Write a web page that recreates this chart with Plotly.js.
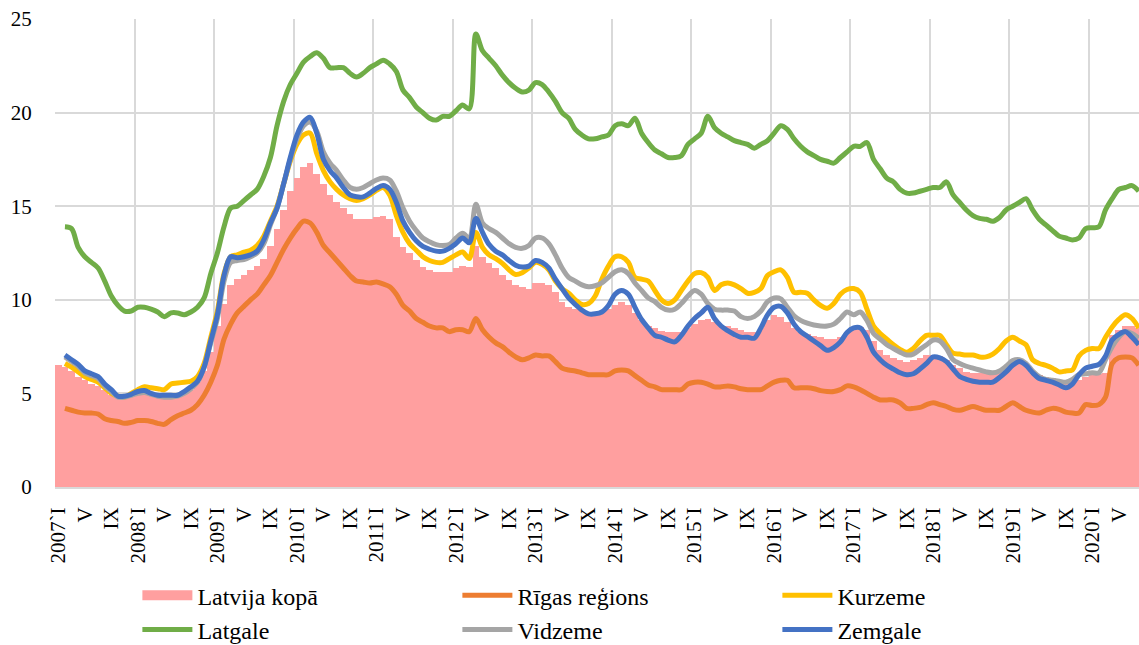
<!DOCTYPE html>
<html>
<head>
<meta charset="utf-8">
<script src="https://cdn.plot.ly/plotly-3.0.1.min.js"></script>
<style>
  html, body { margin: 0; padding: 0; background: #fff; }
  #chart { width: 1139px; height: 645px; }
  #chart svg text { font-family: "Liberation Serif", "Times New Roman", serif !important; }
</style>
</head>
<body>
<div id="chart"></div>
<script>
// Monthly data, January 2007 (index 0) to August 2020 (index 163)
const startYear = 2007;
const monthCount = 164;

const latvijaKopa = [
  6.5, 6.4, 6.2, 5.9, 5.7, 5.5, 5.4, 5.2, 4.9, 4.8, 4.8, 4.9,
  5.0, 5.0, 4.9, 4.8, 4.7, 4.8, 4.9, 5.0, 5.2, 5.6, 6.2, 7.2,
  8.6, 9.8, 10.8, 11.1, 11.3, 11.6, 11.8, 12.2, 12.9, 13.8, 14.8, 15.8,
  16.5, 17.1, 17.3, 16.7, 16.2, 15.6, 15.2, 14.9, 14.6, 14.3, 14.3, 14.3,
  14.4, 14.5, 14.3, 13.35, 12.8, 12.5, 12.1, 11.75, 11.6, 11.5, 11.5, 11.5,
  11.7, 11.8, 11.75, 12.9, 12.3, 11.95, 11.7, 11.3, 11.05, 10.8, 10.7, 10.6,
  10.9, 10.9, 10.8, 10.4, 9.9, 9.6, 9.5, 9.45, 9.35, 9.3, 9.4, 9.5,
  9.7, 9.9, 9.7, 9.3, 8.9, 8.6, 8.5, 8.35, 8.3, 8.3, 8.3, 8.5,
  8.7, 8.9, 9.0, 8.8, 8.65, 8.6, 8.5, 8.4, 8.3, 8.3, 8.5, 8.9,
  9.2, 9.1, 8.8, 8.5, 8.3, 8.15, 8.05, 8.0, 7.9, 7.9, 8.0, 8.3,
  8.5, 8.55, 8.4, 7.8, 7.3, 7.05, 6.9, 6.8, 6.7, 6.8, 6.9, 7.05,
  7.05, 7.0, 6.8, 6.5, 6.35, 6.15, 6.1, 6.1, 6.1, 6.1, 6.15, 6.4,
  6.6, 6.6, 6.5, 6.1, 6.0, 5.9, 5.8, 5.7, 5.6, 5.55, 5.7, 5.9,
  6.0, 6.05, 6.1, 8.1, 8.4, 8.6, 8.6, 8.5
];

const rigasRegions = [
  null, 4.2, 4.1, 4.0, 3.95, 3.95, 3.9, 3.65, 3.55, 3.5, 3.4, 3.45,
  3.55, 3.55, 3.5, 3.4, 3.35, 3.6, 3.8, 3.95, 4.1, 4.4, 4.9, 5.6,
  6.5, 7.9, 8.7, 9.3, 9.65, 10.0, 10.3, 10.8, 11.3, 12.0, 12.7, 13.3,
  13.8, 14.2, 14.1, 13.6, 12.9, 12.5, 12.1, 11.7, 11.3, 11.0, 10.95, 10.9,
  10.95, 10.85, 10.7, 10.3, 9.7, 9.4, 9.0, 8.8, 8.6, 8.5, 8.5, 8.3,
  8.4, 8.4, 8.3, 9.0, 8.4, 8.0, 7.7, 7.5, 7.2, 6.95, 6.8, 6.9,
  7.05, 7.0, 7.0, 6.7, 6.35, 6.25, 6.2, 6.1, 6.0, 6.0, 6.0, 6.0,
  6.2, 6.25, 6.2, 5.95, 5.7, 5.45, 5.35, 5.2, 5.2, 5.2, 5.2, 5.5,
  5.6, 5.6, 5.5, 5.35, 5.35, 5.4, 5.35, 5.25, 5.2, 5.2, 5.2, 5.4,
  5.6, 5.7, 5.7, 5.3, 5.3, 5.3, 5.25, 5.15, 5.1, 5.1, 5.2, 5.4,
  5.35, 5.2, 5.0, 4.8, 4.65, 4.65, 4.65, 4.5, 4.2, 4.2, 4.25, 4.4,
  4.5, 4.4, 4.3, 4.15, 4.1, 4.2, 4.3, 4.2, 4.1, 4.1, 4.1, 4.3,
  4.5, 4.3, 4.1, 4.0, 3.95, 4.1, 4.2, 4.15, 4.0, 3.95, 3.95, 4.4,
  4.35, 4.4, 4.8, 6.6, 6.9, 6.95, 6.9, 6.5
];

const kurzeme = [
  null, 6.6, 6.4, 6.15, 5.9, 5.75, 5.6, 5.3, 5.0, 4.85, 4.8, 5.0,
  5.2, 5.35, 5.3, 5.25, 5.2, 5.5, 5.55, 5.6, 5.65, 5.9, 6.6, 8.0,
  9.4, 11.4, 12.3, 12.4, 12.55, 12.65, 12.9, 13.4, 14.2, 15.0, 16.2, 17.4,
  18.3, 18.8, 18.9, 17.8, 16.9, 16.3, 15.9, 15.6, 15.4, 15.3, 15.4, 15.6,
  15.85, 16.0, 15.6, 14.5, 13.6, 13.0, 12.65, 12.3, 12.1, 12.0, 12.0, 12.2,
  12.4, 12.55, 12.2, 13.6, 12.8, 12.4, 12.2, 11.95, 11.6, 11.35, 11.45, 11.7,
  12.0, 11.9, 11.6, 11.0, 10.6, 10.35, 10.0, 9.75, 9.8, 10.2, 11.1, 11.8,
  12.3, 12.3, 12.0, 11.2, 11.1, 11.0, 10.5, 10.0, 9.8, 10.0, 10.5, 11.0,
  11.4, 11.45, 11.2, 10.5, 10.8, 10.9, 10.8, 10.6, 10.35, 10.4, 10.6, 11.3,
  11.5, 11.6, 11.2, 10.4, 10.4, 10.35, 10.0, 9.7, 9.55, 9.8, 10.3, 10.55,
  10.6, 10.4, 9.5, 8.6, 8.2, 7.9, 7.6, 7.35, 7.2, 7.4, 7.8, 8.1,
  8.1, 8.1, 7.6, 7.15, 7.1, 7.05, 7.05, 6.95, 6.95, 7.1, 7.4, 7.8,
  8.0, 7.8, 7.6, 6.8, 6.6, 6.5, 6.35, 6.15, 6.2, 6.25, 7.0, 7.3,
  7.4, 7.4, 8.0, 8.55, 8.95, 9.2, 9.0, 8.5
];

const latgale = [
  null, 13.9, 13.8, 12.8, 12.3, 12.0, 11.7, 11.0, 10.2, 9.7, 9.4, 9.4,
  9.6, 9.6, 9.5, 9.35, 9.1, 9.3, 9.3, 9.2, 9.35, 9.6, 10.1, 11.4,
  12.5, 13.9, 14.9, 15.0, 15.3, 15.6, 15.9, 16.6, 17.6, 19.3, 20.6, 21.5,
  22.1, 22.7, 23.0, 23.2, 22.9, 22.4, 22.4, 22.4, 22.1, 21.9, 22.1, 22.4,
  22.6, 22.8, 22.6, 22.2, 21.2, 20.8, 20.3, 20.0, 19.7, 19.6, 19.8, 19.8,
  20.1, 20.4, 20.2, 24.2, 23.3, 22.9, 22.5, 22.0, 21.6, 21.3, 21.1, 21.2,
  21.6, 21.5, 21.1, 20.6, 20.0, 19.7, 19.1, 18.8, 18.6, 18.6, 18.7, 18.8,
  19.3, 19.4, 19.3, 19.7, 18.9, 18.4, 18.0, 17.8, 17.6, 17.6, 17.7, 18.3,
  18.6, 18.9, 19.8, 19.2, 18.9, 18.7, 18.5, 18.4, 18.3, 18.1, 18.3, 18.5,
  18.9, 19.3, 19.1, 18.6, 18.2, 17.9, 17.7, 17.5, 17.4, 17.3, 17.6, 17.9,
  18.2, 18.2, 18.4, 17.5, 17.0, 16.5, 16.3, 15.9, 15.7, 15.7, 15.8, 15.9,
  16.0, 16.0, 16.3, 15.6, 15.2, 14.8, 14.5, 14.35, 14.3, 14.2, 14.4, 14.8,
  15.0, 15.2, 15.4, 14.8, 14.3, 14.0, 13.7, 13.4, 13.3, 13.2, 13.3, 13.8,
  13.85, 13.9, 14.8, 15.4, 15.9, 16.0, 16.1, 15.8
];

const vidzeme = [
  null, 6.95, 6.7, 6.45, 6.1, 5.95, 5.8, 5.4, 5.1, 4.8, 4.8, 4.9,
  5.0, 5.05, 4.95, 4.85, 4.8, 4.8, 4.85, 5.0, 5.25, 5.6, 6.4, 7.7,
  9.0, 11.0, 12.0, 12.1, 12.15, 12.3, 12.5, 13.0, 14.0, 14.9, 16.2, 17.5,
  18.6, 19.3, 19.5, 19.0, 17.9, 17.3, 16.9, 16.4, 16.0, 15.9, 16.0, 16.2,
  16.4, 16.5, 16.4, 15.8, 14.9, 14.2, 13.7, 13.3, 13.1, 12.95, 12.9, 12.95,
  13.3, 13.55, 13.3, 15.1, 14.1, 13.8, 13.6, 13.3, 13.0, 12.8, 12.75, 12.9,
  13.3, 13.3, 13.0, 12.4, 11.7, 11.2, 11.0, 10.8, 10.7, 10.75, 10.9, 11.2,
  11.5, 11.6, 11.4, 10.9, 10.5, 10.1, 9.9, 9.6, 9.45, 9.5, 9.8, 10.2,
  10.5, 10.3, 9.8, 9.5, 9.45, 9.45, 9.4, 9.1, 9.0, 9.1, 9.4, 9.9,
  10.1, 10.05, 9.6, 9.15, 8.9, 8.75, 8.65, 8.6, 8.6, 8.7, 9.0, 9.35,
  9.2, 9.35, 8.9, 8.2, 7.9, 7.6, 7.4, 7.2, 7.05, 7.1, 7.35, 7.6,
  7.85, 7.8, 7.4, 6.8, 6.6, 6.45, 6.35, 6.25, 6.15, 6.1, 6.2, 6.45,
  6.75, 6.8, 6.6, 6.2, 5.9, 5.75, 5.7, 5.65, 5.6, 5.75, 6.0, 6.05,
  6.1, 6.1, 6.8, 7.5, 8.0, 8.3, 8.2, 7.95
];

const zemgale = [
  null, 7.05, 6.8, 6.55, 6.2, 6.05, 5.9, 5.5, 5.2, 4.85, 4.85, 4.95,
  5.1, 5.15, 5.0, 4.9, 4.9, 4.9, 4.9, 5.1, 5.35, 5.65, 6.4, 7.8,
  9.2, 11.3, 12.3, 12.25, 12.3, 12.4, 12.6, 13.2, 14.1, 14.9, 16.2, 17.6,
  18.8, 19.5, 19.75, 18.9, 17.5, 16.9, 16.5, 16.0, 15.6, 15.5, 15.5, 15.7,
  15.95, 16.1, 15.9, 15.2, 14.2, 13.6, 13.15, 12.85, 12.7, 12.6, 12.6, 12.75,
  13.0, 13.3, 13.05, 14.35, 13.6, 12.95, 12.6, 12.4, 12.1, 11.85, 11.75, 11.8,
  12.1, 12.0, 11.7, 11.1, 10.6, 10.1, 9.75, 9.45, 9.25, 9.25, 9.35, 9.7,
  10.3, 10.5, 10.3, 9.6, 8.95, 8.5, 8.1, 8.0, 7.85, 7.75, 8.1, 8.6,
  9.0, 9.3, 9.6, 9.0, 8.6, 8.35, 8.15, 8.0, 8.0, 7.95, 8.5, 9.2,
  9.6, 9.65, 9.3, 8.7, 8.3, 8.05, 7.8, 7.55, 7.3, 7.45, 7.75, 8.25,
  8.5, 8.5, 8.0, 7.2, 6.8, 6.5, 6.3, 6.1, 6.0, 6.05, 6.3, 6.6,
  6.95, 6.9, 6.7, 6.3, 5.9, 5.75, 5.65, 5.6, 5.6, 5.6, 5.85, 6.15,
  6.5, 6.7, 6.5, 6.1, 5.8, 5.7, 5.6, 5.45, 5.3, 5.5, 6.0, 6.35,
  6.45, 6.55, 7.0, 7.85, 8.15, 8.3, 8.0, 7.6
];

const monthTickNames = ["I", "V", "IX"];
const seriesNames = ["Latvija kopā", "Rīgas reģions", "Kurzeme", "Latgale", "Vidzeme", "Zemgale"];
const seriesColors = ["#ff9f9f", "#ed7d31", "#ffc000", "#70ad47", "#a5a5a5", "#4472c4"];

// Build axis helpers from the arrays above
const idx = Array.from({length: monthCount}, (_, i) => i);
const tickVals = [], tickText = [];
for (let i = 0; i < monthCount; i += 4) {
  const m = i % 12;
  tickVals.push(i);
  tickText.push(m === 0 ? (startYear + i / 12) + "`I" : monthTickNames[m / 4]);
}
const yearGrid = [];
for (let i = -0.5; i < monthCount; i += 12) yearGrid.push(i);

const serif = "Liberation Serif";
const xRange = [-0.5, 163.05];

const lineTrace = (y, k) => ({
  type: "scatter", mode: "lines", x: idx, y: y, name: seriesNames[k],
  line: {color: seriesColors[k], width: 5, shape: "spline", smoothing: 0.9},
  connectgaps: false, hoverinfo: "x+y+name"
});

const data = [
  {type: "scatter", mode: "lines", x: [null], y: [null], name: seriesNames[0],
   line: {color: seriesColors[0], width: 15}, hoverinfo: "skip"},
  {type: "bar", x: idx, y: latvijaKopa, name: seriesNames[0], showlegend: false,
   marker: {color: seriesColors[0], line: {width: 0}}},
  lineTrace(rigasRegions, 1),
  lineTrace(kurzeme, 2),
  lineTrace(latgale, 3),
  lineTrace(vidzeme, 4),
  lineTrace(zemgale, 5),
  {type: "scatter", mode: "lines", x: [null], y: [null], xaxis: "x2", showlegend: false, hoverinfo: "skip"}
];

const layout = {
  width: 1139, height: 645,
  margin: {l: 55, r: 0, t: 19, b: 158, pad: 0, autoexpand: false},
  paper_bgcolor: "#ffffff", plot_bgcolor: "#ffffff",
  bargap: 0,
  showlegend: true,
  font: {family: serif, color: "#000000", size: 21},
  xaxis: {
    range: xRange, tickmode: "array", tickvals: tickVals, ticktext: tickText,
    tickangle: -90, showgrid: false, zeroline: false, automargin: false,
    showline: true, linecolor: "#d9d9d9", linewidth: 2,
    ticks: "outside", ticklen: 10, tickcolor: "rgba(0,0,0,0)",
    tickfont: {family: serif, size: 21, color: "#000"}
  },
  xaxis2: {
    overlaying: "x", range: xRange, tickmode: "array", tickvals: yearGrid,
    showticklabels: false, showgrid: true, gridcolor: "#d9d9d9", gridwidth: 2,
    zeroline: false, showline: false, ticks: "", automargin: false
  },
  yaxis: {
    range: [0, 25], dtick: 5, tick0: 0, showgrid: true, gridcolor: "#d9d9d9", gridwidth: 2,
    zeroline: false, showline: false, automargin: false,
    ticks: "outside", ticklen: 18, tickcolor: "rgba(0,0,0,0)",
    tickfont: {family: serif, size: 21, color: "#000"}
  },
  legend: {
    orientation: "h", x: 0.076, xanchor: "left", y: -0.184, yanchor: "top",
    entrywidth: 255, entrywidthmode: "pixels", itemwidth: 50,
    font: {family: serif, size: 24, color: "#000"},
    bgcolor: "rgba(0,0,0,0)", traceorder: "normal"
  }
};

Plotly.newPlot("chart", data, layout, {staticPlot: true, displayModeBar: false});
</script>
</body>
</html>
